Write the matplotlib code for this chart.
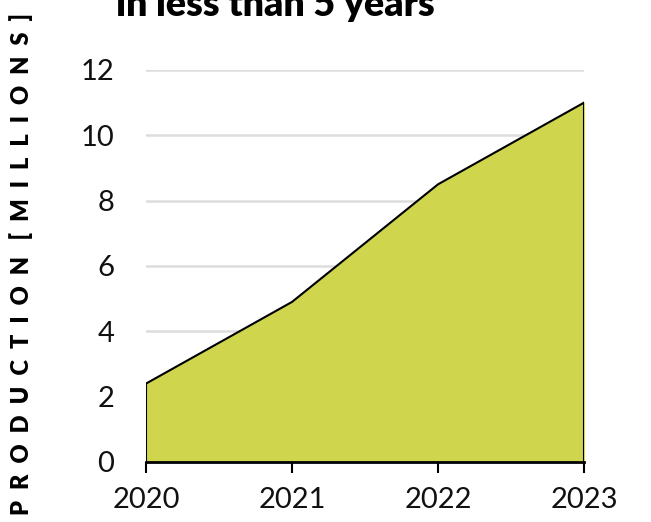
import matplotlib
matplotlib.use("Agg")
import matplotlib.pyplot as plt

# production per year, millions
years = [2020, 2021, 2022, 2023]
production = [2.4, 4.9, 8.5, 11.0]
y_ticks = [0, 2, 4, 6, 8, 10, 12]

plt.rcParams['font.family'] = ['Lato', 'DejaVu Sans']

fig = plt.figure(figsize=(6.51, 5.22), dpi=100)
ax = fig.add_axes([146 / 651, 1 - 462 / 522, (584 - 146) / 651, (462 - 70) / 522])

ax.fill_between(years, production, 0, color="#cfd64e", zorder=2)
ax.plot(years, production, color="black", lw=1.5, zorder=3)
ax.plot([years[0], years[0]], [0, production[0]], color="black", lw=1.5, zorder=3)
ax.plot([years[-1], years[-1]], [0, production[-1]], color="black", lw=1.5, zorder=3)

ax.set_xlim(years[0], years[-1])
ax.set_ylim(0, 12)
ax.set_xticks(years)
ax.set_xticklabels([str(y) for y in years])
ax.set_yticks(y_ticks)
ax.grid(axis="y", color="#dddddd", lw=1.8, zorder=1)

for s in ["top", "right", "left"]:
    ax.spines[s].set_visible(False)
ax.spines["bottom"].set_linewidth(2)
ax.spines["bottom"].set_zorder(4)
ax.tick_params(axis="y", length=0, pad=23, labelsize=21, labelcolor="#111111")
ax.tick_params(axis="x", length=8, width=1.5, pad=10, labelsize=21, labelcolor="#111111")

# spaced-out axis label
ylabel = "  ".join("PRODUCTION") + "   " + "  ".join("[MILLIONS]")
fig.text(21 / 651, 1 - 264 / 522, ylabel, rotation=90, ha="center", va="center",
         fontsize=17, fontweight="heavy")

fig.text(275 / 651, 1 - 16 / 522, "in less than 5 years", ha="center", va="baseline",
         fontsize=27, fontweight="heavy")

fig.savefig("out.png", dpi=100)
